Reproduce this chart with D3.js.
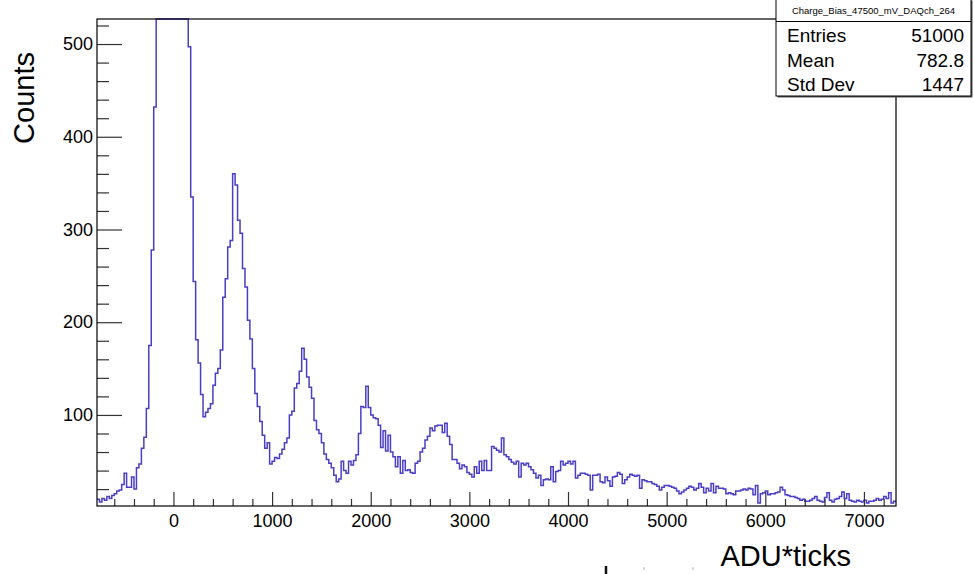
<!DOCTYPE html>
<html>
<head>
<meta charset="utf-8">
<script src="https://cdn.jsdelivr.net/npm/d3@7"></script>
<style>
  html, body { margin: 0; padding: 0; background: #fff; }
  svg { display: block; font-family: "Liberation Sans", Arial, Helvetica, sans-serif; }
</style>
</head>
<body>
<svg id="chart" width="974" height="574"></svg>
<script>
// Histogram binning (ADU*ticks)
const binStart = -775;
const binWidth = 25;

// Counts per bin, left to right
const counts = [
  9, 6, 10, 8, 12, 10, 13, 15, 18, 19,
  25, 37, 22, 22, 33, 20, 43, 47, 64, 76,
  107, 175, 278, 432, 760, 1450, 2300, 3100, 3600, 3800,
  3700, 3300, 2700, 2000, 1400, 950, 640, 497, 335, 244,
  181, 156, 122, 98, 103, 107, 112, 132, 145, 150,
  170, 227, 247, 281, 288, 360, 348, 310, 296, 258,
  238, 202, 182, 150, 123, 109, 93, 78, 64, 70,
  47, 50, 54, 53, 58, 63, 70, 75, 100, 104,
  129, 134, 147, 172, 160, 141, 130, 118, 94, 84,
  80, 70, 58, 52, 48, 43, 35, 28, 31, 50,
  40, 37, 50, 46, 51, 57, 80, 109, 108, 131,
  108, 100, 97, 96, 89, 65, 83, 61, 78, 60,
  55, 44, 55, 37, 51, 40, 41, 38, 37, 48,
  50, 60, 64, 73, 77, 86, 83, 88, 89, 89,
  81, 91, 77, 68, 52, 52, 48, 42, 46, 44,
  38, 36, 33, 44, 37, 50, 40, 51, 40, 40,
  66, 64, 62, 60, 75, 57, 55, 52, 49, 47,
  50, 33, 48, 46, 48, 44, 41, 37, 32, 35,
  24, 30, 31, 30, 44, 28, 39, 40, 50, 46,
  48, 50, 47, 50, 32, 35, 37, 37, 36, 35,
  19, 35, 35, 36, 28, 27, 33, 29, 23, 33,
  34, 38, 36, 26, 30, 33, 36, 35, 34, 35,
  21, 30, 29, 28, 28, 26, 25, 23, 19, 22,
  24, 24, 23, 22, 21, 18, 15, 17, 19, 21,
  23, 22, 19, 21, 26, 22, 16, 21, 18, 26,
  16, 23, 21, 21, 20, 15, 16, 15, 14, 18,
  18, 19, 20, 19, 21, 20, 14, 24, 5, 15,
  16, 18, 14, 15, 15, 16, 17, 22, 19, 14,
  13, 12, 12, 11, 10, 8, 9, 7, 7, 8,
  10, 12, 8, 7, 6, 11, 16, 8, 6, 9,
  10, 12, 17, 10, 15, 8, 7, 6, 8, 7,
  6, 8, 5, 7, 7, 8, 10, 8, 9, 12,
  10, 16, 5, 7
];

// Axis ranges and ticks
const xRange = [-775, 7325];
const yRange = [1.8, 527];
const xMajorTicks = [0, 1000, 2000, 3000, 4000, 5000, 6000, 7000];
const xMinorTicks = [-600, -400, -200, 200, 400, 600, 800, 1200, 1400, 1600, 1800,
  2200, 2400, 2600, 2800, 3200, 3400, 3600, 3800, 4200, 4400, 4600, 4800,
  5200, 5400, 5600, 5800, 6200, 6400, 6600, 6800, 7200];
const yMajorTicks = [100, 200, 300, 400, 500];
const yMinorTicks = [20, 40, 60, 80, 120, 140, 160, 180, 220, 240, 260, 280,
  320, 340, 360, 380, 420, 440, 460, 480, 520];

// Text
const xTitle = "ADU*ticks";
const yTitle = "Counts";
const statsTitle = "Charge_Bias_47500_mV_DAQch_264";
const statsLabels = ["Entries", "Mean", "Std Dev"];
const statsValues = ["51000", "782.8", "1447"];

const svg = d3.select("#chart");
const frame = { left: 97, right: 896, top: 19, bottom: 506 };

const x = d3.scaleLinear().domain(xRange).range([frame.left, frame.right]);
const y = d3.scaleLinear().domain(yRange).range([frame.bottom, frame.top]).clamp(true);

svg.append("rect").attr("width", 974).attr("height", 574).attr("fill", "#fff");

// Step outline of the histogram
const pts = counts.map((c, i) => [binStart + i * binWidth, c]);
pts.push([binStart + counts.length * binWidth, counts[counts.length - 1]]);

svg.append("defs").append("clipPath").attr("id", "plotclip")
  .append("rect")
  .attr("x", frame.left).attr("y", frame.top - 1)
  .attr("width", frame.right - frame.left).attr("height", frame.bottom - frame.top + 1);

const line = d3.line()
  .x(d => x(d[0]))
  .y(d => y(d[1]))
  .curve(d3.curveStepAfter);

svg.append("path")
  .datum(pts)
  .attr("clip-path", "url(#plotclip)")
  .attr("fill", "none")
  .attr("stroke", "#4a3dc6")
  .attr("stroke-width", 1.5)
  .attr("stroke-linejoin", "miter")
  .attr("d", line);

// Axes with inward ticks
const tickColor = "#333";
function styleAxis(g) {
  g.select(".domain").remove();
  g.selectAll(".tick line").attr("stroke", tickColor).attr("stroke-width", 1.2);
  g.selectAll(".tick text").attr("fill", "#000").attr("font-size", 18)
    .attr("font-family", "Liberation Sans, Arial, Helvetica, sans-serif");
}

svg.append("g")
  .attr("transform", `translate(0,${frame.bottom})`)
  .call(d3.axisBottom(x).tickValues(xMinorTicks).tickSize(-7).tickFormat(""))
  .call(styleAxis);

svg.append("g")
  .attr("transform", `translate(0,${frame.bottom})`)
  .call(d3.axisBottom(x).tickValues(xMajorTicks).tickSize(-14).tickPadding(8).tickFormat(d3.format("d")))
  .call(styleAxis);

svg.append("g")
  .attr("transform", `translate(${frame.left},0)`)
  .call(d3.axisLeft(y).tickValues(yMinorTicks).tickSize(-12).tickFormat(""))
  .call(styleAxis);

svg.append("g")
  .attr("transform", `translate(${frame.left},0)`)
  .call(d3.axisLeft(y).tickValues(yMajorTicks).tickSize(-25).tickPadding(4).tickFormat(d3.format("d")))
  .call(styleAxis);

// Frame
svg.append("rect")
  .attr("x", frame.left).attr("y", frame.top)
  .attr("width", frame.right - frame.left).attr("height", frame.bottom - frame.top)
  .attr("fill", "none").attr("stroke", "#000").attr("stroke-width", 1.2);

// Axis titles
svg.append("text")
  .attr("transform", "translate(34,98) rotate(-90)")
  .attr("text-anchor", "middle")
  .attr("font-size", 29)
  .text(yTitle);

svg.append("text")
  .attr("x", 851).attr("y", 566)
  .attr("text-anchor", "end")
  .attr("font-size", 29)
  .text(xTitle);

// Statistics box
const box = { x: 776, y: -1, w: 195, h: 97 };
const stats = svg.append("g");
stats.append("rect")
  .attr("x", box.x + 1.5).attr("y", box.y + 1.5)
  .attr("width", box.w).attr("height", box.h)
  .attr("fill", "#555");
stats.append("rect")
  .attr("x", box.x).attr("y", box.y)
  .attr("width", box.w).attr("height", box.h)
  .attr("fill", "#fff").attr("stroke", "#000").attr("stroke-width", 1);
stats.append("text")
  .attr("x", box.x + box.w / 2).attr("y", 14)
  .attr("text-anchor", "middle")
  .attr("font-size", 9.5)
  .text(statsTitle);
stats.append("line")
  .attr("x1", box.x).attr("x2", box.x + box.w)
  .attr("y1", 21.5).attr("y2", 21.5)
  .attr("stroke", "#000").attr("stroke-width", 1);

const rowY = d3.scalePoint().domain(statsLabels).range([42, 91]);
stats.selectAll("text.lbl").data(statsLabels).join("text")
  .attr("class", "lbl")
  .attr("x", 787).attr("y", d => rowY(d))
  .attr("font-size", 19)
  .text(d => d);
stats.selectAll("text.val").data(statsValues).join("text")
  .attr("class", "val")
  .attr("x", 964).attr("y", (d, i) => rowY(statsLabels[i]))
  .attr("text-anchor", "end")
  .attr("font-size", 19)
  .text(d => d);

// Cut-off marks along the lower edge
svg.append("line").attr("x1", 606).attr("x2", 606).attr("y1", 566).attr("y2", 574)
  .attr("stroke", "#111").attr("stroke-width", 2.5);
svg.append("line").attr("x1", 644).attr("x2", 644).attr("y1", 567).attr("y2", 570)
  .attr("stroke", "#ccc").attr("stroke-width", 1.5);
svg.append("line").attr("x1", 693).attr("x2", 693).attr("y1", 567).attr("y2", 570)
  .attr("stroke", "#ccc").attr("stroke-width", 1.5);
</script>
</body>
</html>
